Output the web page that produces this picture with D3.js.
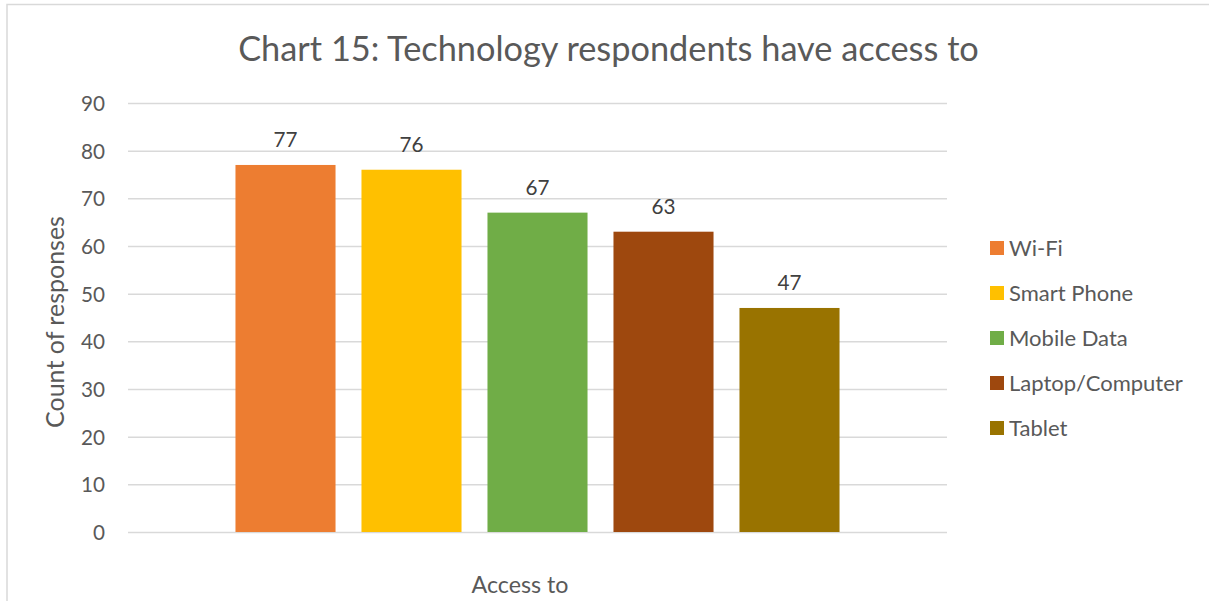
<!DOCTYPE html>
<html>
<head>
<meta charset="utf-8">
<script src="https://cdn.jsdelivr.net/npm/d3@7"></script>
<style>
  body { margin: 0; background: #ffffff; }
  svg text { font-family: Lato, "Open Sans", "Noto Sans", sans-serif; }
</style>
</head>
<body>
<svg id="chart" width="1209" height="601"></svg>
<script>
// ---- data ----
const chartTitle = "Chart 15: Technology respondents have access to";
const seriesNames = ["Wi-Fi", "Smart Phone", "Mobile Data", "Laptop/Computer", "Tablet"];
const seriesValues = [77, 76, 67, 63, 47];
const seriesColors = ["#ED7D31", "#FFC000", "#70AD47", "#9E480E", "#997300"];
const yTickValues = [0, 10, 20, 30, 40, 50, 60, 70, 80, 90];
const xAxisTitle = "Access to";
const yAxisTitle = "Count of responses";

const bars = seriesNames.map((name, i) => ({ name, value: seriesValues[i], color: seriesColors[i] }));

// ---- layout ----
const W = 1209, H = 601;
const plot = { left: 128, right: 947, top: 103, bottom: 532 };
const svg = d3.select("#chart");

// pick a font size so that a sample string reaches a given width
function fitSize(sample, width) {
  const t = svg.append("text").attr("font-size", 100).text(sample);
  const w = t.node().getComputedTextLength();
  t.remove();
  return 100 * width / w;
}
const titleSize = fitSize(chartTitle, 741);
const legendSize = fitSize("Laptop/Computer", 174);
const tickSize = fitSize("90", 24);
const labelSize = fitSize("77", 24);
const xTitleSize = fitSize(xAxisTitle, 97);
const yTitleSize = fitSize(yAxisTitle, 212);

// chart area frame
svg.append("rect")
  .attr("x", 7).attr("y", 4.5)
  .attr("width", W + 20).attr("height", H + 20)
  .attr("fill", "#ffffff")
  .attr("stroke", "#d9d9d9").attr("stroke-width", 1.5);

// ---- scales ----
const y = d3.scaleLinear().domain([0, 90]).range([plot.bottom, plot.top]);
const x = d3.scaleBand()
  .domain(seriesNames)
  .range([plot.left, plot.right])
  .paddingInner(0.206)
  .paddingOuter(0.853);

// gridlines + tick labels through a d3 axis
const yAxis = d3.axisLeft(y)
  .tickValues(yTickValues)
  .tickSize(-(plot.right - plot.left))
  .tickPadding(23);
const gy = svg.append("g")
  .attr("transform", `translate(${plot.left},0)`)
  .call(yAxis);
gy.select(".domain").remove();
gy.selectAll(".tick line").attr("stroke", "#d9d9d9").attr("stroke-width", 1.5);
gy.selectAll(".tick text")
  .attr("fill", "#595959")
  .attr("font-size", tickSize)
  .attr("dy", "0.36em");

// bars
svg.append("g").selectAll("rect")
  .data(bars)
  .join("rect")
  .attr("x", d => x(d.name))
  .attr("y", d => y(d.value))
  .attr("width", x.bandwidth())
  .attr("height", d => y(0) - y(d.value))
  .attr("fill", d => d.color);

// value labels above bars
svg.append("g").selectAll("text")
  .data(bars)
  .join("text")
  .attr("x", d => x(d.name) + x.bandwidth() / 2)
  .attr("y", d => y(d.value) - 18)
  .attr("text-anchor", "middle")
  .attr("font-size", labelSize)
  .attr("fill", "#404040")
  .text(d => d.value);

// title
svg.append("text")
  .attr("x", 608.5).attr("y", 61)
  .attr("text-anchor", "middle")
  .attr("font-size", titleSize)
  .attr("fill", "#595959")
  .text(chartTitle);

// axis titles
svg.append("text")
  .attr("x", 520).attr("y", 593)
  .attr("text-anchor", "middle")
  .attr("font-size", xTitleSize)
  .attr("fill", "#595959")
  .text(xAxisTitle);

svg.append("text")
  .attr("transform", `translate(64,322) rotate(-90)`)
  .attr("text-anchor", "middle")
  .attr("font-size", yTitleSize)
  .attr("fill", "#595959")
  .text(yAxisTitle);

// legend
const legend = svg.append("g").selectAll("g")
  .data(bars)
  .join("g")
  .attr("transform", (d, i) => `translate(990,${248 + i * 45})`);
legend.append("rect")
  .attr("x", 0).attr("y", -7)
  .attr("width", 14).attr("height", 14)
  .attr("fill", d => d.color);
legend.append("text")
  .attr("x", 19).attr("y", 0)
  .attr("dy", "0.36em")
  .attr("font-size", legendSize)
  .attr("fill", "#595959")
  .text(d => d.name);
</script>
</body>
</html>
